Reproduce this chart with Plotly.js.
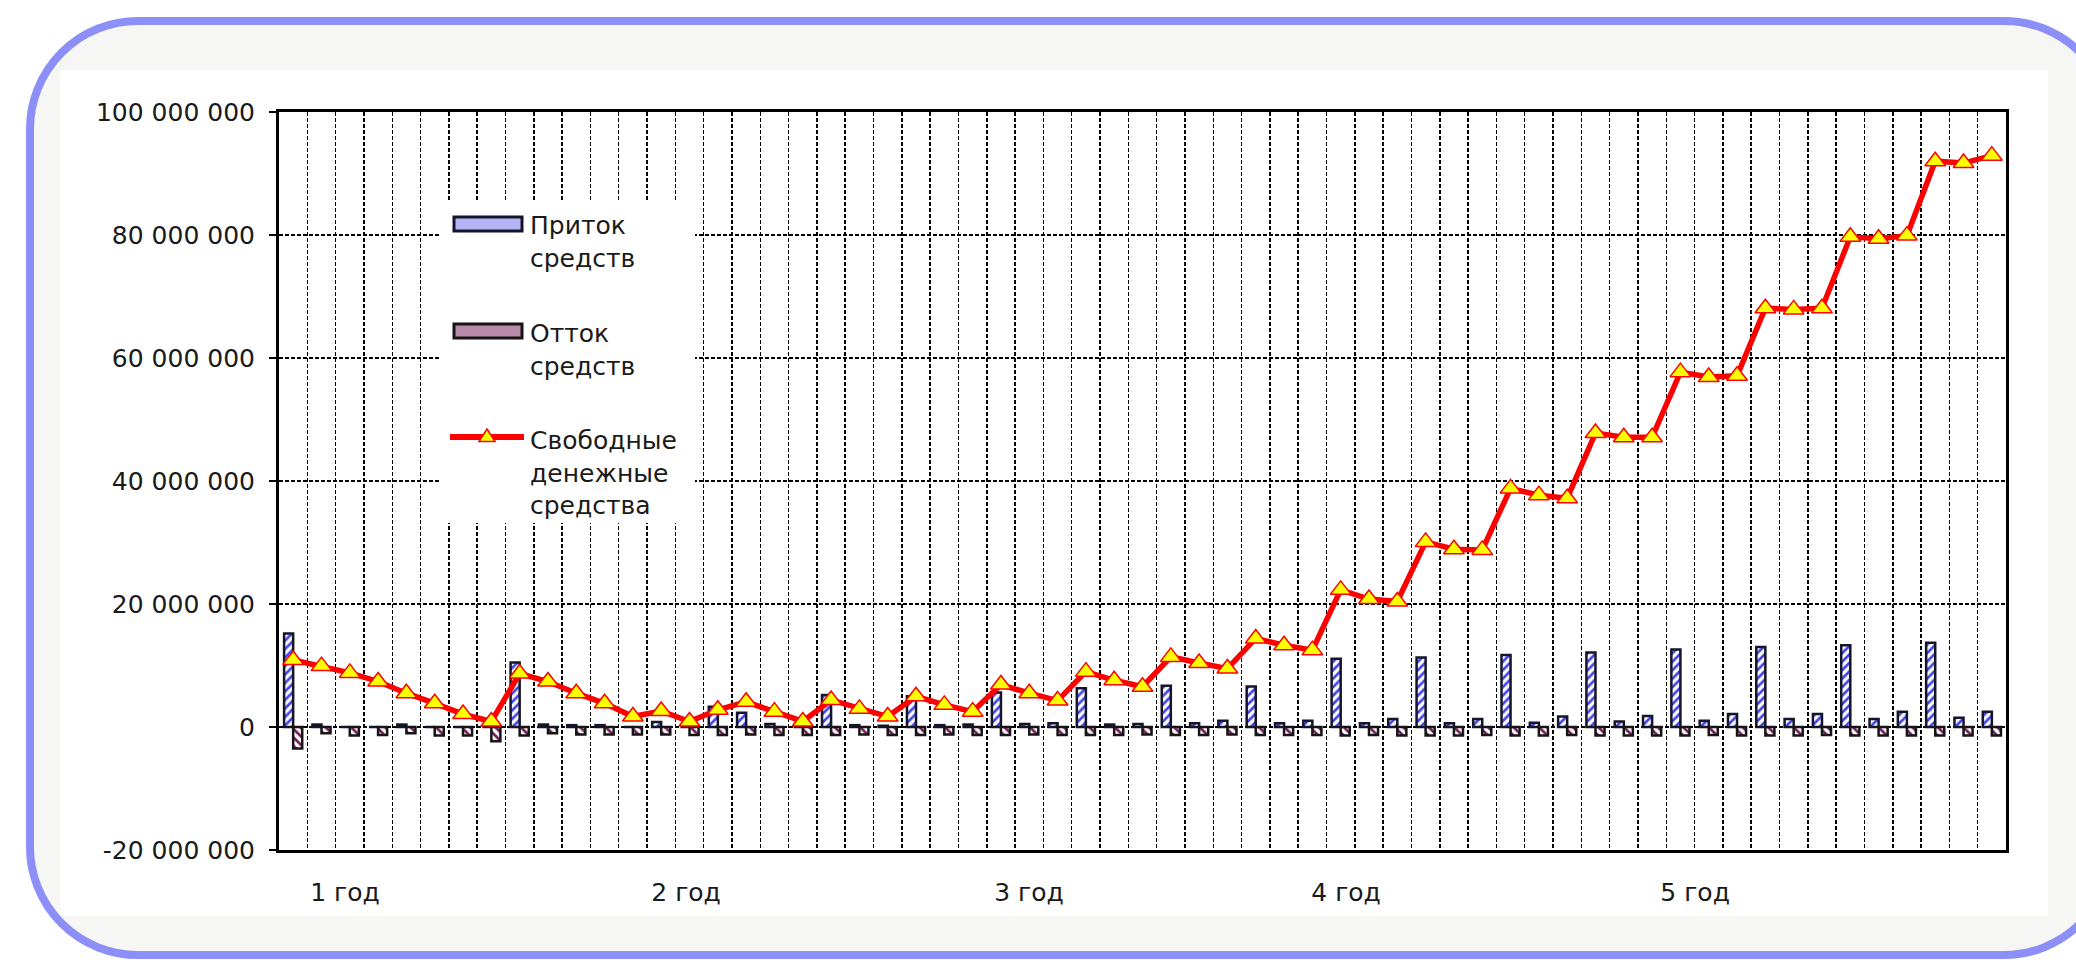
<!DOCTYPE html>
<html>
<head>
<meta charset="utf-8">
<script src="https://cdn.plot.ly/plotly-3.0.1.min.js"></script>
<style>
  html, body { margin: 0; padding: 0; background: #ffffff; overflow: hidden; }
  #stage { position: relative; width: 2076px; height: 960px; overflow: hidden; background: #ffffff; }
  #frame {
    position: absolute; left: 26px; top: 17px; width: 2090px; height: 942px;
    box-sizing: border-box; border: 8px solid #8b8ff7; border-radius: 112px;
    background: #f6f6f4;
  }
  #inner { position: absolute; left: 60px; top: 70px; width: 1988px; height: 846px; background: #ffffff; }
  #chart { position: absolute; left: 0; top: 0; width: 2076px; height: 960px; }
</style>
</head>
<body>
<div id="stage">
  <div id="frame"></div>
  <div id="inner"></div>
  <div id="chart"></div>
</div>
<script>
// ---- Data ----
const months = [1,2,3,4,5,6,7,8,9,10,11,12,13,14,15,16,17,18,19,20,21,22,23,24,25,26,27,28,29,30,31,32,33,34,35,36,37,38,39,40,41,42,43,44,45,46,47,48,49,50,51,52,53,54,55,56,57,58,59,60,61];

const inflow = [
  15200000, 400000, 0, 0, 400000, 0, 0, 0, 10500000, 400000, 300000, 300000,
  0, 800000, 0, 3300000, 2300000, 500000, 0, 5200000, 300000, 200000, 5000000, 300000,
  400000, 5600000, 500000, 600000, 6300000, 400000, 500000, 6700000, 600000, 1000000, 6600000, 600000,
  1000000, 11100000, 600000, 1300000, 11300000, 600000, 1300000, 11700000, 700000, 1700000, 12100000, 900000,
  1800000, 12600000, 1000000, 2100000, 13000000, 1300000, 2100000, 13300000, 1300000, 2500000, 13700000, 1500000,
  2500000
];

const outflow = [
  -3500000, -1000000, -1400000, -1300000, -1000000, -1400000, -1400000, -2300000, -1400000, -1000000, -1200000, -1200000,
  -1200000, -1200000, -1300000, -1300000, -1200000, -1300000, -1300000, -1300000, -1200000, -1300000, -1300000, -1200000,
  -1300000, -1300000, -1200000, -1300000, -1300000, -1300000, -1200000, -1300000, -1300000, -1200000, -1300000, -1300000,
  -1300000, -1400000, -1300000, -1400000, -1400000, -1400000, -1300000, -1400000, -1400000, -1300000, -1400000, -1400000,
  -1400000, -1400000, -1300000, -1400000, -1400000, -1400000, -1300000, -1400000, -1400000, -1400000, -1400000, -1400000,
  -1400000
];

const freeCash = [
  10900000, 9900000, 8800000, 7400000, 5500000, 3850000, 2100000, 900000, 8700000, 7400000, 5500000, 3850000,
  1700000, 2600000, 900000, 2800000, 4100000, 2500000, 900000, 4400000, 2950000, 1700000, 5000000, 3600000,
  2500000, 6900000, 5500000, 4300000, 9000000, 7600000, 6550000, 11400000, 10400000, 9500000, 14400000, 13300000,
  12500000, 22300000, 20800000, 20400000, 30100000, 28900000, 28800000, 38800000, 37700000, 37200000, 47800000, 47100000,
  47100000, 57700000, 56900000, 57100000, 68100000, 67900000, 68100000, 79700000, 79400000, 79900000, 92000000, 91700000,
  92900000
];

const seriesNames = ['Приток<br>средств', 'Отток<br>средств', 'Свободные<br>денежные<br>средства'];

const yearLabels = ['1 год', '2 год', '3 год', '4 год', '5 год'];
const yearLabelPos = [2.83, 14.88, 26.99, 38.19, 50.52];

const yTickVals = [-20000000, 0, 20000000, 40000000, 60000000, 80000000, 100000000];
const yTickText = ['-20 000 000', '0', '20 000 000', '40 000 000', '60 000 000', '80 000 000', '100 000 000'];

// ---- Colours ----
const INFLOW_LINE = '#15152a', INFLOW_HATCH = '#4545ee', INFLOW_SWATCH = '#b3b3f6';
const OUTFLOW_LINE = '#151515', OUTFLOW_HATCH = '#761b58', OUTFLOW_SWATCH = '#b98aa9';
const CASH_LINE = '#ff0000', CASH_MARK = '#ffff00';
const FONT = 'DejaVu Sans, Arial, sans-serif';
const TXT = '#1a1a1a';

// ---- pixel -> paper helpers (legend decoration only) ----
const M = {l: 279, r: 70, t: 112, b: 110};
const W = 2076, H = 960;
const PW = W - M.l - M.r, PH = H - M.t - M.b;
const px = v => +((v - M.l) / PW).toFixed(5);
const py = v => +((H - M.b - v) / PH).toFixed(5);
function trianglePath(cx, cy, s) {
  return ['M', px(cx - s), py(cy + s * 0.55), 'L', px(cx + s), py(cy + s * 0.55), 'L', px(cx), py(cy - s * 1.0), 'Z'].join(' ');
}

const traces = [
  {
    type: 'bar', x: months, y: inflow, name: seriesNames[0], showlegend: false,
    marker: {
      color: '#ffffff',
      line: {color: INFLOW_LINE, width: 2.5},
      pattern: {shape: '/', fgcolor: INFLOW_HATCH, bgcolor: '#ffffff', size: 6, solidity: 0.45}
    },
    hoverinfo: 'skip'
  },
  {
    type: 'bar', x: months, y: outflow, name: seriesNames[1], showlegend: false,
    marker: {
      color: '#ffffff',
      line: {color: OUTFLOW_LINE, width: 2.5},
      pattern: {shape: '\\', fgcolor: OUTFLOW_HATCH, bgcolor: '#ffffff', size: 6, solidity: 0.45}
    },
    hoverinfo: 'skip'
  },
  {
    type: 'scatter', mode: 'lines+markers', x: months, y: freeCash, name: seriesNames[2], showlegend: false,
    line: {color: CASH_LINE, width: 5.5},
    marker: {symbol: 'triangle-up', size: 18, color: CASH_MARK, line: {color: CASH_LINE, width: 1.5}},
    hoverinfo: 'skip'
  }
];

// Legend drawn as shapes + text, to match the wide swatches of the original
const legendTextX = 528;
const legendTextTop = [209, 317, 424];
const legendShapes = [
  {type: 'rect', xref: 'paper', yref: 'paper', layer: 'above',
   x0: px(440), x1: px(695), y0: py(523), y1: py(202), fillcolor: '#ffffff', line: {width: 0}},
  {type: 'rect', xref: 'paper', yref: 'paper', layer: 'above',
   x0: px(454), x1: px(522), y0: py(231), y1: py(217), fillcolor: INFLOW_SWATCH, line: {color: INFLOW_LINE, width: 3}},
  {type: 'rect', xref: 'paper', yref: 'paper', layer: 'above',
   x0: px(454), x1: px(522), y0: py(338), y1: py(324), fillcolor: OUTFLOW_SWATCH, line: {color: OUTFLOW_LINE, width: 3}},
  {type: 'line', xref: 'paper', yref: 'paper', layer: 'above',
   x0: px(450), x1: px(524), y0: py(437), y1: py(437), line: {color: CASH_LINE, width: 6}},
  {type: 'path', xref: 'paper', yref: 'paper', layer: 'above',
   path: trianglePath(487, 437, 8), fillcolor: CASH_MARK, line: {color: CASH_LINE, width: 1.5}}
];
const legendAnnotations = seriesNames.map((name, i) => ({
  xref: 'paper', yref: 'paper', x: px(legendTextX), y: py(legendTextTop[i]),
  xanchor: 'left', yanchor: 'top', align: 'left', showarrow: false,
  text: name, font: {family: FONT, size: 25, color: TXT}
}));

const layout = {
  width: W, height: H,
  margin: M,
  paper_bgcolor: 'rgba(0,0,0,0)',
  plot_bgcolor: '#ffffff',
  font: {family: FONT, size: 25, color: TXT},
  barmode: 'group',
  bargap: 0.36,
  bargroupgap: 0,
  showlegend: false,
  xaxis: {
    range: [0.5, 61.5],
    tickmode: 'array', tickvals: yearLabelPos, ticktext: yearLabels,
    ticks: '', showgrid: false, zeroline: false,
    showline: true, linecolor: '#000000', linewidth: 3, mirror: true,
    ticklabelstandoff: 18,
    tickfont: {family: FONT, size: 25, color: TXT},
    minor: {tickmode: 'linear', tick0: 0.5, dtick: 1, showgrid: true, gridcolor: '#000000', griddash: '4px,2px', gridwidth: 1.5, ticks: ''},
    fixedrange: true
  },
  yaxis: {
    range: [-20000000, 100000000],
    tickmode: 'array', tickvals: yTickVals, ticktext: yTickText,
    ticks: 'outside', ticklen: 7, tickwidth: 2, tickcolor: '#000000',
    showgrid: true, gridcolor: '#000000', griddash: '4px,2px', gridwidth: 1.5,
    zeroline: false,
    showline: true, linecolor: '#000000', linewidth: 3, mirror: true,
    ticklabelstandoff: 9,
    tickfont: {family: FONT, size: 25, color: TXT},
    fixedrange: true
  },
  shapes: legendShapes,
  annotations: legendAnnotations
};

Plotly.newPlot('chart', traces, layout, {staticPlot: true, displayModeBar: false});
</script>
</body>
</html>
